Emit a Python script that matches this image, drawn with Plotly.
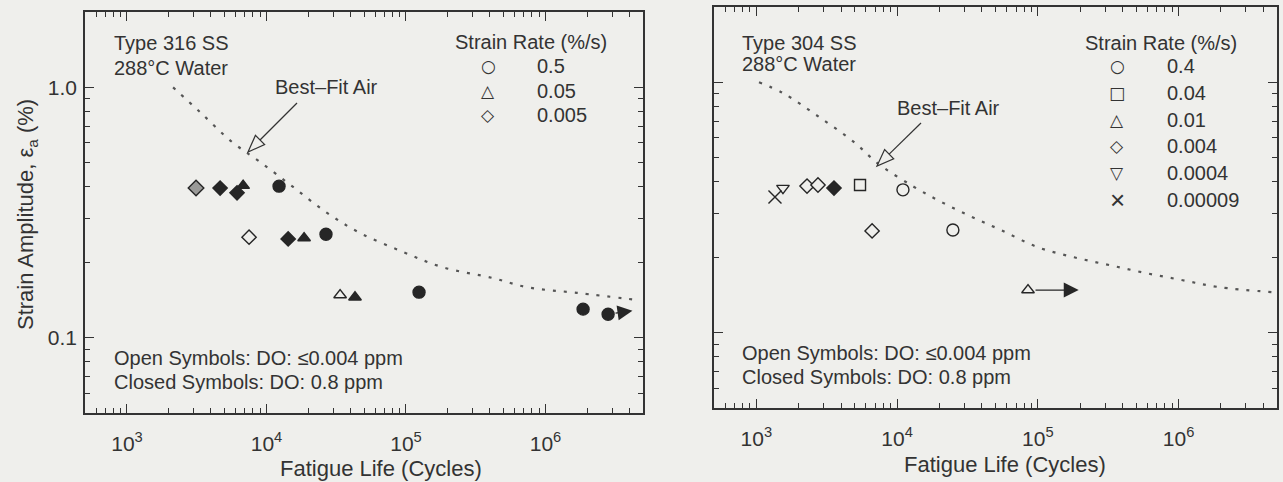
import numpy as np
import plotly.graph_objects as go

W, H = 1283, 482

# ---------------- Type 316 SS (left panel) ----------------
# Best-fit air curve (fatigue life, strain amplitude %)
fit316_N = [2140, 3340, 5660, 8970, 15500, 27200, 46800, 95200, 184000, 421000, 737000, 1680000, 4750000]
fit316_e = [1.00, 0.796, 0.605, 0.504, 0.400, 0.315, 0.262, 0.220, 0.191, 0.173, 0.159, 0.151, 0.141]

# strain rate 0.5 %/s, DO 0.8 ppm (closed circles)
s316_05_closed_N = [12300, 26700, 124000, 1860000, 2810000]
s316_05_closed_e = [0.403, 0.259, 0.152, 0.130, 0.124]
# strain rate 0.05 %/s
s316_005_closed_N = [6800, 18600, 43100]
s316_005_closed_e = [0.405, 0.250, 0.145]
s316_005_open_N = [33700]
s316_005_open_e = [0.148]
# strain rate 0.005 %/s
s316_0005_closed_N = [4650, 6150, 14300]
s316_0005_closed_e = [0.396, 0.379, 0.248]
s316_0005_open_N = [7500]
s316_0005_open_e = [0.252]
s316_0005_mixed_N = [3125]
s316_0005_mixed_e = [0.396]
# run-out test (no failure)
runout316_N = [2810000]
runout316_e = [0.124]
runout316_tip_N = [4200000]
runout316_tip_e = [0.128]

# ---------------- Type 304 SS (right panel) ----------------
fit304_N = [1044, 1545, 2790, 5020, 7200, 13200, 21200, 34000, 54700, 98600, 181000, 325000, 586000, 1070000, 1940000, 4770000]
fit304_e = [1.00, 0.906, 0.727, 0.573, 0.477, 0.382, 0.330, 0.290, 0.257, 0.220, 0.200, 0.186, 0.173, 0.162, 0.152, 0.145]

s304_04_open_N = [11000, 24900]
s304_04_open_e = [0.372, 0.257]
s304_004_open_N = [5450]
s304_004_open_e = [0.389]
s304_001_open_N = [85100]
s304_001_open_e = [0.148]
s304_0004_open_N = [2290, 2740, 6640]
s304_0004_open_e = [0.385, 0.389, 0.255]
s304_0004_closed_N = [3560]
s304_0004_closed_e = [0.378]
s304_00004_open_N = [1545]
s304_00004_open_e = [0.378]
s304_000009_open_N = [1356]
s304_000009_open_e = [0.348]
runout304_N = [85100]
runout304_e = [0.148]
runout304_tip_N = [195000]
runout304_tip_e = [0.148]

# legend entries
rates316 = ["0.5", "0.05", "0.005"]
glyphs316 = ["\u25CB", "\u25B3", "\u25C7"]
rates304 = ["0.4", "0.04", "0.01", "0.004", "0.0004", "0.00009"]
glyphs304 = ["\u25CB", "\u25A1", "\u25B3", "\u25C7", "\u25BD", "\u00D7"]

x_tick_vals = [1e3, 1e4, 1e5, 1e6]
x_tick_text = ["10<sup>3</sup>", "10<sup>4</sup>", "10<sup>5</sup>", "10<sup>6</sup>"]
y_tick_vals = [0.1, 1.0]
y_tick_text = ["0.1", "1.0"]

FONT = "Liberation Sans, Arial, Helvetica, sans-serif"
INK = "#333333"
MARK = "#262626"
BG = "#efefec"
TXT = 20


def px(x):
    return x / W


def py(y):
    return 1 - y / H


fig = go.Figure()

LINE_FIT = dict(color="#555555", width=2.2, dash="3px,8px")


def add_pts(N, e, symbol, xa, ya, filled, size=11, fill=None):
    color = fill if fill else (MARK if filled else BG)
    fig.add_trace(go.Scatter(
        x=N, y=e, mode="markers", xaxis=xa, yaxis=ya, showlegend=False,
        marker=dict(symbol=symbol, size=size, color=color,
                    line=dict(color=MARK, width=1.4)),
    ))


# left panel
fig.add_trace(go.Scatter(x=fit316_N, y=fit316_e, mode="lines", line=LINE_FIT,
                         line_shape="spline", xaxis="x", yaxis="y", showlegend=False))
add_pts(s316_05_closed_N, s316_05_closed_e, "circle", "x", "y", True, 12)
add_pts(s316_005_closed_N, s316_005_closed_e, "triangle-up", "x", "y", True, 11)
add_pts(s316_005_open_N, s316_005_open_e, "triangle-up", "x", "y", False, 11)
add_pts(s316_0005_closed_N, s316_0005_closed_e, "diamond", "x", "y", True, 11)
add_pts(s316_0005_open_N, s316_0005_open_e, "diamond", "x", "y", False, 11)
add_pts(s316_0005_mixed_N, s316_0005_mixed_e, "diamond", "x", "y", True, 12, fill="#9a9a98")

# right panel
fig.add_trace(go.Scatter(x=fit304_N, y=fit304_e, mode="lines", line=LINE_FIT,
                         line_shape="spline", xaxis="x2", yaxis="y2", showlegend=False))
add_pts(s304_04_open_N, s304_04_open_e, "circle", "x2", "y2", False, 12)
add_pts(s304_004_open_N, s304_004_open_e, "square", "x2", "y2", False, 11)
add_pts(s304_001_open_N, s304_001_open_e, "triangle-up", "x2", "y2", False, 11)
add_pts(s304_0004_open_N, s304_0004_open_e, "diamond", "x2", "y2", False, 11)
add_pts(s304_0004_closed_N, s304_0004_closed_e, "diamond", "x2", "y2", True, 11)
add_pts(s304_00004_open_N, s304_00004_open_e, "triangle-down", "x2", "y2", False, 11)
add_pts(s304_000009_open_N, s304_000009_open_e, "x-thin", "x2", "y2", False, 13)

annotations = []
shapes = []


def text(x, y, s, size=TXT, anchor="left", angle=0, family=FONT):
    annotations.append(dict(x=px(x), y=py(y), xref="paper", yref="paper", text=s,
                            showarrow=False, xanchor=anchor, yanchor="middle",
                            textangle=angle, font=dict(family=family, size=size, color=INK)))


def open_arrow(tail, tip, head_len=17, head_w=6.5):
    tx, ty = tail
    hx, hy = tip
    d = np.array([hx - tx, hy - ty], dtype=float)
    d /= np.linalg.norm(d)
    n = np.array([-d[1], d[0]])
    base = np.array([hx, hy]) - head_len * d
    p1 = base + head_w * n
    p2 = base - head_w * n
    shapes.append(dict(type="line", xref="paper", yref="paper",
                       x0=px(tx), y0=py(ty), x1=px(base[0]), y1=py(base[1]),
                       line=dict(color=INK, width=1.2)))
    path = "M {:.5f},{:.5f} L {:.5f},{:.5f} L {:.5f},{:.5f} Z".format(
        px(hx), py(hy), px(p1[0]), py(p1[1]), px(p2[0]), py(p2[1]))
    shapes.append(dict(type="path", path=path, xref="paper", yref="paper",
                       fillcolor=BG, line=dict(color=INK, width=1.2)))


def glyph_style(g):
    # the multiplication sign is taken from the text face, which draws it thin
    if g == "\u00D7":
        return 26, FONT
    return 17, "DejaVu Sans"


# left panel texts
text(112, 43, "Type 316 SS")
text(112, 68, "288\u00B0C Water")
text(273, 87, "Best\u2013Fit Air")
open_arrow((297, 103), (248, 152))
text(453, 42, "Strain Rate (%/s)")
for i, (g, r) in enumerate(zip(glyphs316, rates316)):
    yy = 66 + i * 24.5
    gs, gf = glyph_style(g)
    text(488, yy, g, size=gs, anchor="center", family=gf)
    text(535, yy, r)
text(112, 358, "Open Symbols: DO: \u22640.004 ppm")
text(112, 382, "Closed Symbols: DO: 0.8 ppm")
text(27, 215, "Strain Amplitude, \u03B5<sub>a</sub> (%)", size=22, anchor="center", angle=-90)
text(381, 468, "Fatigue Life (Cycles)", size=22, anchor="center")

# right panel texts
text(740, 43, "Type 304 SS")
text(740, 64, "288\u00B0C Water")
text(895, 108, "Best\u2013Fit Air")
open_arrow((921, 123), (877, 166))
text(1083, 43, "Strain Rate (%/s)")
for i, (g, r) in enumerate(zip(glyphs304, rates304)):
    yy = 66 + i * 26.8
    gs, gf = glyph_style(g)
    text(1117, yy, g, size=gs, anchor="center", family=gf)
    text(1165, yy, r)
text(740, 353, "Open Symbols: DO: \u22640.004 ppm")
text(740, 377, "Closed Symbols: DO: 0.8 ppm")
text(1005, 464, "Fatigue Life (Cycles)", size=22, anchor="center")

# run-out arrows (tests stopped before failure)
for xa, ya, N0, e0, N1, e1 in [("x", "y", runout316_N, runout316_e, runout316_tip_N, runout316_tip_e),
                               ("x2", "y2", runout304_N, runout304_e, runout304_tip_N, runout304_tip_e)]:
    for a, b, c, d in zip(N0, e0, N1, e1):
        annotations.append(dict(x=np.log10(c), y=np.log10(d), ax=np.log10(a), ay=np.log10(b),
                                xref=xa, yref=ya, axref=xa, ayref=ya, showarrow=True,
                                arrowhead=2, arrowsize=2.3, arrowwidth=1.3, arrowcolor=MARK,
                                startstandoff=6, text=""))

axis_common = dict(
    type="log", showgrid=False, zeroline=False, showline=True, linecolor=INK, linewidth=1.5,
    mirror="allticks", ticks="inside", ticklen=9, tickwidth=1.3, tickcolor=INK,
    minor=dict(ticks="inside", ticklen=5, tickwidth=1.1, tickcolor=INK, dtick="D1", showgrid=False),
    tickfont=dict(family=FONT, size=21, color=INK),
)

xr = [np.log10(500), np.log10(5e6)]
yr = [np.log10(0.05), np.log10(2.0)]

fig.update_layout(
    width=W, height=H, autosize=False,
    margin=dict(l=0, r=0, t=0, b=0),
    paper_bgcolor=BG, plot_bgcolor=BG,
    showlegend=False,
    xaxis=dict(axis_common, domain=[px(85), px(643)], range=xr, anchor="y",
               tickmode="array", tickvals=x_tick_vals, ticktext=x_tick_text, ticklabelstandoff=11),
    yaxis=dict(axis_common, domain=[py(413), py(12)], range=yr, anchor="x",
               tickmode="array", tickvals=y_tick_vals, ticktext=y_tick_text, ticklabelstandoff=2),
    xaxis2=dict(axis_common, domain=[px(714), px(1277)], range=xr, anchor="y2",
                tickmode="array", tickvals=x_tick_vals, ticktext=x_tick_text, ticklabelstandoff=11),
    yaxis2=dict(axis_common, domain=[py(408), py(7)], range=yr, anchor="x2",
                tickmode="array", tickvals=y_tick_vals, showticklabels=False),
    annotations=annotations,
    shapes=shapes,
)

fig.write_html("out.html")
